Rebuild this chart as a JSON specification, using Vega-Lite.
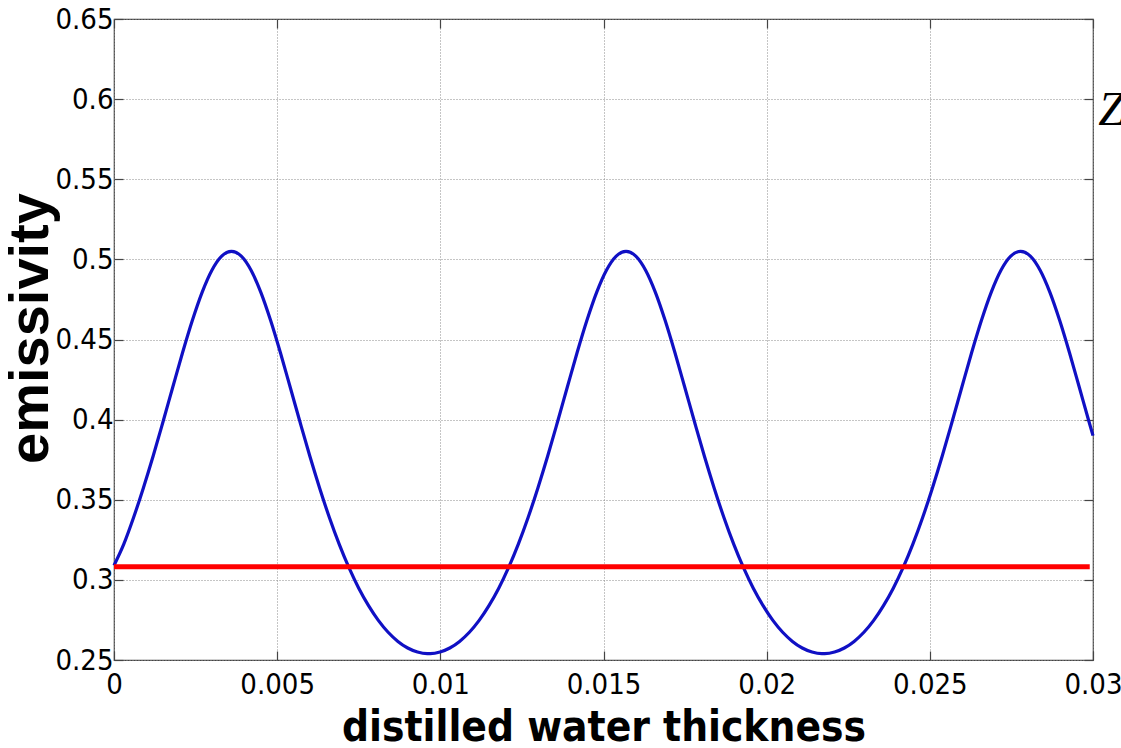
{
  "$schema": "https://vega.github.io/schema/vega-lite/v6.json",
  "width": 979,
  "height": 641,
  "autosize": "none",
  "padding": {"left": 114, "top": 19, "right": 28, "bottom": 88},
  "background": "white",
  "config": {
    "view": {"stroke": "#444444", "strokeWidth": 1.2},
    "axis": {
      "labelFont": "DejaVu Sans Condensed, Liberation Sans, sans-serif",
      "labelFontSize": 29,
      "labelColor": "#000000",
      "labelFlush": false,
      "titleFont": "DejaVu Sans Condensed, Liberation Sans, sans-serif",
      "titleFontWeight": "bold",
      "titleColor": "#000000",
      "domain": false,
      "tickColor": "#444444",
      "tickWidth": 1.2,
      "tickSize": -9,
      "gridColor": "#8a8a8a",
      "gridDash": [1, 2],
      "gridWidth": 1
    }
  },
  "datasets": {
    "curve": [
      {"thickness": 0, "emissivity": 0.309},
      {"thickness": 0.0003, "emissivity": 0.3223},
      {"thickness": 0.0006, "emissivity": 0.3389},
      {"thickness": 0.0009, "emissivity": 0.3574},
      {"thickness": 0.0012, "emissivity": 0.3773},
      {"thickness": 0.0015, "emissivity": 0.3985},
      {"thickness": 0.0018, "emissivity": 0.4202},
      {"thickness": 0.0021, "emissivity": 0.4417},
      {"thickness": 0.0024, "emissivity": 0.4618},
      {"thickness": 0.0027, "emissivity": 0.4794},
      {"thickness": 0.003, "emissivity": 0.4932},
      {"thickness": 0.0033, "emissivity": 0.502},
      {"thickness": 0.0036, "emissivity": 0.505},
      {"thickness": 0.0039, "emissivity": 0.502},
      {"thickness": 0.0042, "emissivity": 0.4932},
      {"thickness": 0.0045, "emissivity": 0.4794},
      {"thickness": 0.0048, "emissivity": 0.4618},
      {"thickness": 0.0051, "emissivity": 0.4417},
      {"thickness": 0.0054, "emissivity": 0.4202},
      {"thickness": 0.0057, "emissivity": 0.3985},
      {"thickness": 0.006, "emissivity": 0.3773},
      {"thickness": 0.0063, "emissivity": 0.3574},
      {"thickness": 0.0066, "emissivity": 0.3389},
      {"thickness": 0.0069, "emissivity": 0.3223},
      {"thickness": 0.0072, "emissivity": 0.3076},
      {"thickness": 0.0075, "emissivity": 0.2948},
      {"thickness": 0.0078, "emissivity": 0.2839},
      {"thickness": 0.0081, "emissivity": 0.2747},
      {"thickness": 0.0084, "emissivity": 0.2673},
      {"thickness": 0.0087, "emissivity": 0.2616},
      {"thickness": 0.009, "emissivity": 0.2575},
      {"thickness": 0.0093, "emissivity": 0.255},
      {"thickness": 0.0096, "emissivity": 0.254},
      {"thickness": 0.00969, "emissivity": 0.254},
      {"thickness": 0.00999, "emissivity": 0.255},
      {"thickness": 0.01029, "emissivity": 0.2575},
      {"thickness": 0.01059, "emissivity": 0.2616},
      {"thickness": 0.01089, "emissivity": 0.2673},
      {"thickness": 0.01119, "emissivity": 0.2747},
      {"thickness": 0.01149, "emissivity": 0.2839},
      {"thickness": 0.01179, "emissivity": 0.2948},
      {"thickness": 0.01209, "emissivity": 0.3076},
      {"thickness": 0.01239, "emissivity": 0.3223},
      {"thickness": 0.01269, "emissivity": 0.3389},
      {"thickness": 0.01299, "emissivity": 0.3574},
      {"thickness": 0.01329, "emissivity": 0.3773},
      {"thickness": 0.01359, "emissivity": 0.3985},
      {"thickness": 0.01389, "emissivity": 0.4202},
      {"thickness": 0.01419, "emissivity": 0.4417},
      {"thickness": 0.01449, "emissivity": 0.4618},
      {"thickness": 0.01479, "emissivity": 0.4794},
      {"thickness": 0.01509, "emissivity": 0.4932},
      {"thickness": 0.01539, "emissivity": 0.502},
      {"thickness": 0.01569, "emissivity": 0.505},
      {"thickness": 0.01599, "emissivity": 0.502},
      {"thickness": 0.01629, "emissivity": 0.4932},
      {"thickness": 0.01659, "emissivity": 0.4794},
      {"thickness": 0.01689, "emissivity": 0.4618},
      {"thickness": 0.01719, "emissivity": 0.4417},
      {"thickness": 0.01749, "emissivity": 0.4202},
      {"thickness": 0.01779, "emissivity": 0.3985},
      {"thickness": 0.01809, "emissivity": 0.3773},
      {"thickness": 0.01839, "emissivity": 0.3574},
      {"thickness": 0.01869, "emissivity": 0.3389},
      {"thickness": 0.01899, "emissivity": 0.3223},
      {"thickness": 0.01929, "emissivity": 0.3076},
      {"thickness": 0.01959, "emissivity": 0.2948},
      {"thickness": 0.01989, "emissivity": 0.2839},
      {"thickness": 0.02019, "emissivity": 0.2747},
      {"thickness": 0.02049, "emissivity": 0.2673},
      {"thickness": 0.02079, "emissivity": 0.2616},
      {"thickness": 0.02109, "emissivity": 0.2575},
      {"thickness": 0.02139, "emissivity": 0.255},
      {"thickness": 0.02169, "emissivity": 0.254},
      {"thickness": 0.02178, "emissivity": 0.254},
      {"thickness": 0.02208, "emissivity": 0.255},
      {"thickness": 0.02238, "emissivity": 0.2575},
      {"thickness": 0.02268, "emissivity": 0.2616},
      {"thickness": 0.02298, "emissivity": 0.2673},
      {"thickness": 0.02328, "emissivity": 0.2747},
      {"thickness": 0.02358, "emissivity": 0.2839},
      {"thickness": 0.02388, "emissivity": 0.2948},
      {"thickness": 0.02418, "emissivity": 0.3076},
      {"thickness": 0.02448, "emissivity": 0.3223},
      {"thickness": 0.02478, "emissivity": 0.3389},
      {"thickness": 0.02508, "emissivity": 0.3574},
      {"thickness": 0.02538, "emissivity": 0.3773},
      {"thickness": 0.02568, "emissivity": 0.3985},
      {"thickness": 0.02598, "emissivity": 0.4202},
      {"thickness": 0.02628, "emissivity": 0.4417},
      {"thickness": 0.02658, "emissivity": 0.4618},
      {"thickness": 0.02688, "emissivity": 0.4794},
      {"thickness": 0.02718, "emissivity": 0.4932},
      {"thickness": 0.02748, "emissivity": 0.502},
      {"thickness": 0.02778, "emissivity": 0.505},
      {"thickness": 0.02808, "emissivity": 0.502},
      {"thickness": 0.02838, "emissivity": 0.4932},
      {"thickness": 0.02868, "emissivity": 0.4794},
      {"thickness": 0.02898, "emissivity": 0.4618},
      {"thickness": 0.02928, "emissivity": 0.4417},
      {"thickness": 0.02958, "emissivity": 0.4202},
      {"thickness": 0.02988, "emissivity": 0.3985},
      {"thickness": 0.03, "emissivity": 0.39}
    ],
    "reference": [
      {"thickness": 0, "emissivity": 0.3082},
      {"thickness": 0.0299, "emissivity": 0.3082}
    ],
    "note": [
      {"thickness": 0.03016, "emissivity": 0.5925, "label": "Z"}
    ]
  },
  "layer": [
    {
      "data": {"name": "curve"},
      "mark": {"type": "line", "color": "#1010c4", "strokeWidth": 3.2, "interpolate": "monotone"},
      "encoding": {
        "x": {
          "field": "thickness", "type": "quantitative",
          "scale": {"domain": [0, 0.03], "nice": false, "zero": false},
          "axis": {
            "orient": "bottom",
            "values": [0, 0.005, 0.01, 0.015, 0.02, 0.025, 0.03],
            "format": "~g",
            "grid": true,
            "labelPadding": 19,
            "title": "distilled water thickness",
            "titleFontSize": 42,
            "titleY": 47,
            "titleBaseline": "top"
          }
        },
        "y": {
          "field": "emissivity", "type": "quantitative",
          "scale": {"domain": [0.25, 0.65], "nice": false, "zero": false},
          "axis": {
            "orient": "left",
            "values": [0.25, 0.3, 0.35, 0.4, 0.45, 0.5, 0.55, 0.6, 0.65],
            "format": "~g",
            "grid": true,
            "labelPadding": 10,
            "title": "emissivity",
            "titleFont": "Liberation Sans, Arial, sans-serif",
            "titleFontSize": 56,
            "titleX": -55,
            "titleY": 309,
            "titleBaseline": "bottom"
          }
        }
      }
    },
    {
      "data": {"name": "reference"},
      "mark": {"type": "line", "color": "#ff0000", "strokeWidth": 5},
      "encoding": {
        "x": {
          "field": "thickness", "type": "quantitative",
          "axis": {"orient": "top", "values": [0, 0.005, 0.01, 0.015, 0.02, 0.025, 0.03], "labels": false, "grid": false, "title": null}
        },
        "y": {
          "field": "emissivity", "type": "quantitative",
          "axis": {"orient": "right", "values": [0.25, 0.3, 0.35, 0.4, 0.45, 0.5, 0.55, 0.6, 0.65], "labels": false, "grid": false, "title": null}
        }
      }
    },
    {
      "data": {"name": "note"},
      "mark": {"type": "text", "font": "Liberation Serif", "fontStyle": "italic", "fontSize": 48, "align": "left", "baseline": "middle", "color": "#000000", "clip": false},
      "encoding": {
        "x": {"field": "thickness", "type": "quantitative", "axis": null},
        "y": {"field": "emissivity", "type": "quantitative", "axis": null},
        "text": {"field": "label"}
      }
    }
  ],
  "resolve": {"axis": {"x": "independent", "y": "independent"}}
}
